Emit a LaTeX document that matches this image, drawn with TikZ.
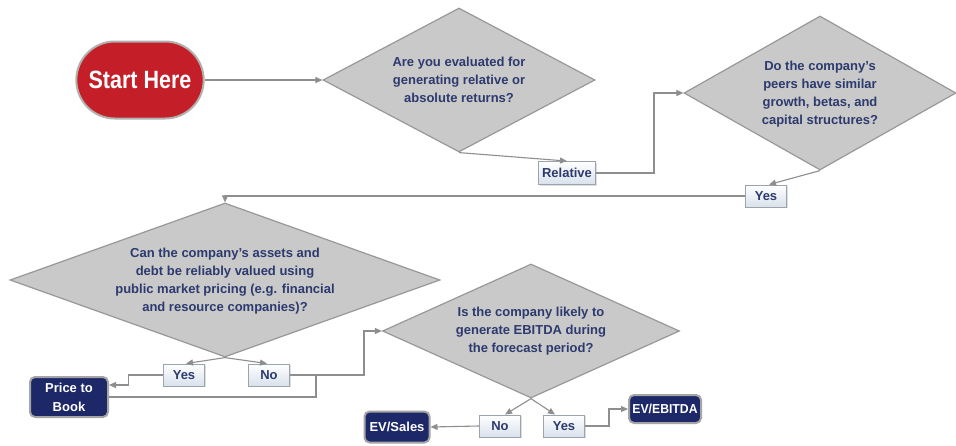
\documentclass[tikz,border=0pt]{standalone}
\usepackage{fontspec}
\setmainfont{Liberation Sans}
\usetikzlibrary{shapes.geometric,shapes.misc,arrows.meta,shadows}

\definecolor{linegray}{HTML}{8E8E8E}
\definecolor{diafill}{HTML}{C9C9C9}
\definecolor{diaedge}{HTML}{989898}
\definecolor{qtext}{HTML}{2C3A6E}
\definecolor{navy}{HTML}{1D2868}
\definecolor{startred}{HTML}{C41F28}
\definecolor{tagfill}{HTML}{D8E1EC}
\definecolor{tagedge}{HTML}{9DA3AB}

\tikzset{
  question/.style={diamond, draw=diaedge, line width=1.2pt, fill=diafill,
    inner sep=0pt},
  qlabel/.style={text=qtext, font=\fontsize{13}{18}\selectfont\bfseries,
    align=center, inner sep=0pt},
  tag/.style={rectangle, draw=tagedge, line width=0.9pt,
    top color=white, bottom color=tagfill, text=qtext,
    font=\fontsize{13}{15}\selectfont\bfseries,
    minimum width=41pt, minimum height=22pt, inner sep=3pt,
    drop shadow={opacity=0.25, shadow xshift=1pt, shadow yshift=-1pt}},
  result/.style={rectangle, rounded corners=5pt, draw=linegray!80,
    line width=2pt, fill=navy, text=white, align=center,
    font=\fontsize{13}{19}\selectfont\bfseries, inner sep=2pt},
  startnode/.style={rounded rectangle, draw=linegray!70, line width=2pt,
    fill=startred, text=white, minimum width=134pt, minimum height=77pt,
    font=\fontsize{25}{25}\selectfont\bfseries},
  link/.style={draw=linegray, line width=1.1pt},
  flow/.style={link, -{Triangle[length=7pt,width=6pt]}}
}

\begin{document}
\begin{tikzpicture}[x=1pt,y=-1pt]
  \useasboundingbox[fill=white] (0,0) rectangle (956,445);

  % start terminal
  \node[startnode] (start) at (140,80) {\scalebox{0.86}[1]{Start Here}};

  % decision diamonds (shape) and their questions
  \node[question, minimum width=272pt, minimum height=144pt] (q1) at (459,80) {};
  \node[qlabel] (q1txt) at (q1.center)
    {Are you evaluated for\\generating relative or\\absolute returns?};
  \node[question, minimum width=272pt, minimum height=154pt] (q2) at (820,93) {};
  \node[qlabel] (q2txt) at ([yshift=-1pt]q2.center)
    {Do the company's\\peers have similar\\growth, betas, and\\capital structures?};
  \node[question, minimum width=430pt, minimum height=154pt] (q3) at (225,280) {};
  \node[qlabel] (q3txt) at ([yshift=-1pt]q3.center)
    {Can the company's assets and\\debt be reliably valued using\\public market pricing (e.g. financial\\and resource companies)?};
  \node[question, minimum width=297pt, minimum height=134pt] (q4) at (531,331) {};
  \node[qlabel] (q4txt) at (q4.center)
    {Is the company likely to\\generate EBITDA during\\the forecast period?};

  % answer tags
  \node[tag, minimum width=57pt, minimum height=23pt] (rel) at (567,173) {Relative};
  \node[tag] (yesA) at (766,196) {Yes};
  \node[tag] (yesB) at (184,375) {Yes};
  \node[tag] (noB) at (269,375) {No};
  \node[tag] (noC) at (500,426) {No};
  \node[tag] (yesC) at (564,426) {Yes};

  % valuation results
  \node[result, minimum width=78pt, minimum height=40pt] (ptb) at (69,397)
    {Price to\\Book};
  \node[result, minimum width=65pt, minimum height=31pt] (evs) at (397,427)
    {EV/Sales};
  \node[result, minimum width=72pt, minimum height=28pt] (eve) at (665,409)
    {\scalebox{0.94}[1]{EV/EBITDA}};

  % connectors
  \draw[flow] (start.east) -- (q1.west);
  \draw[flow] (q1.south) -- (rel.north);
  \draw[flow] (rel.east) -- ++(58,0) |- (q2.west);
  \draw[flow] (q2.south) -- ([xshift=3pt]yesA.north);
  \draw[flow] (yesA.west) -| (q3.north);
  \draw[flow] (q3.south) -- ([xshift=2pt]yesB.north);
  \draw[flow] (q3.south) -- ([xshift=-2pt]noB.north);
  \draw[flow] (yesB.west) -- ++(-35,0) |- ([yshift=12pt]ptb.east);
  \draw[flow] (noB.east) -- ++(74,0) |- (q4.west);
  \draw[link] (ptb.east) -| ([xshift=26pt]noB.east);
  \draw[flow] (q4.south) -- ([xshift=5pt]noC.north);
  \draw[flow] (q4.south) -- ([xshift=-9pt]yesC.north);
  \draw[flow] (noC.west) -- (evs.east);
  \draw[flow] (yesC.east) -- ++(24,0) |- (eve.west);
\end{tikzpicture}
\end{document}
